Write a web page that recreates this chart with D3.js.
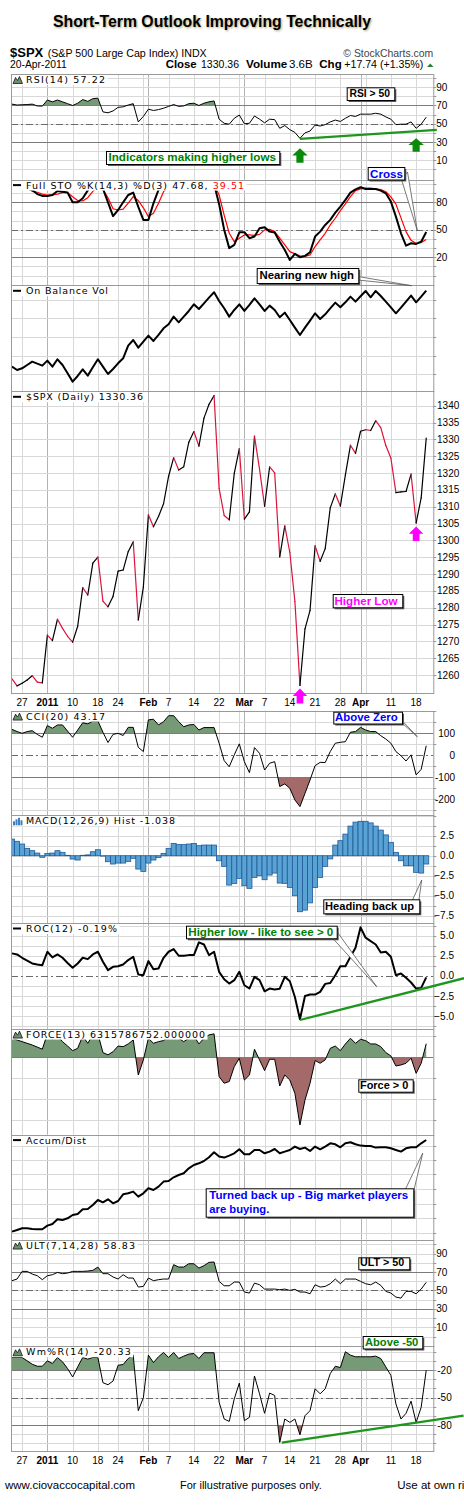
<!DOCTYPE html>
<html><head><meta charset="utf-8">
<script src="https://cdn.jsdelivr.net/npm/d3@7/dist/d3.min.js"></script>
<style>html,body{margin:0;padding:0;background:#fff}svg{display:block}text{font-family:"Liberation Sans",Arial,sans-serif}</style>
</head><body>
<svg id="chart" width="464" height="1507"></svg>
<script>
// ================= DATA =================
const dates = ["2010-12-22","2010-12-23","2010-12-27","2010-12-28","2010-12-29","2010-12-30","2010-12-31",
"2011-01-03","2011-01-04","2011-01-05","2011-01-06","2011-01-07","2011-01-10","2011-01-11","2011-01-12","2011-01-13","2011-01-14",
"2011-01-18","2011-01-19","2011-01-20","2011-01-21","2011-01-24","2011-01-25","2011-01-26","2011-01-27","2011-01-28","2011-01-31",
"2011-02-01","2011-02-02","2011-02-03","2011-02-04","2011-02-07","2011-02-08","2011-02-09","2011-02-10","2011-02-11",
"2011-02-14","2011-02-15","2011-02-16","2011-02-17","2011-02-18","2011-02-22","2011-02-23","2011-02-24","2011-02-25","2011-02-28",
"2011-03-01","2011-03-02","2011-03-03","2011-03-04","2011-03-07","2011-03-08","2011-03-09","2011-03-10","2011-03-11",
"2011-03-14","2011-03-15","2011-03-16","2011-03-17","2011-03-18","2011-03-21","2011-03-22","2011-03-23","2011-03-24","2011-03-25",
"2011-03-28","2011-03-29","2011-03-30","2011-03-31","2011-04-01","2011-04-04","2011-04-05","2011-04-06","2011-04-07","2011-04-08",
"2011-04-11","2011-04-12","2011-04-13","2011-04-14","2011-04-15","2011-04-18","2011-04-19","2011-04-20"];

const spx = [1258.84,1256.77,1257.54,1258.51,1259.78,1257.88,1257.64,1271.87,1270.20,1276.56,1273.85,1271.50,1269.75,1274.48,1285.96,1283.76,1293.24,1295.02,1281.92,1280.26,1283.35,1290.84,1291.18,1296.63,1299.54,1276.34,1286.12,1307.59,1304.03,1307.10,1310.87,1319.05,1324.57,1320.88,1321.87,1329.15,1332.32,1328.01,1336.32,1340.43,1343.01,1315.44,1307.40,1306.10,1319.88,1327.22,1306.33,1308.44,1330.97,1321.15,1310.13,1321.82,1320.02,1295.11,1304.28,1296.39,1281.87,1256.88,1273.72,1279.21,1298.38,1293.77,1297.54,1309.66,1313.80,1310.19,1319.44,1328.26,1325.83,1332.41,1332.87,1332.63,1335.54,1333.51,1328.17,1324.46,1314.16,1314.41,1314.52,1319.68,1305.14,1312.62,1330.36];

const rsi = [71.5,70.5,70.8,71,71.5,69.5,69.3,76,74,76,74,72,70,72.5,76.5,74.5,77.5,78,63,62,64,68,68.5,70.5,72,52,58,66,64.5,65.5,67,69,71,69,69.5,72,72.5,70,72.5,74,75,55,50.5,49.5,56,59.5,50,50.5,58.5,55,51,55,54.5,45,48,43.5,40.5,34,40,42,48.5,47.5,49,52,54,52.5,56,59,58,60.5,60.5,60.5,61.5,60.5,57.5,55,49,49.5,49.5,52,45,49.5,57.22];

const stoK = [97,97,96,95,93.5,89,87,87,88,92.4,91.5,90.6,80,80,84.4,93,99,100,95,80,65,71.6,80,88,90.6,75,60.8,60.8,78.9,93.5,98,99,100,97,98,99,100,97,99,100,100,78,50,30,33.5,47.3,47.3,40.8,42.6,51.7,52.8,48,47,37,28,17.1,23.7,20,21.5,25.5,42.6,48,55.3,60.8,68.8,75.3,82.6,90.6,94.2,96.4,94.6,94.6,94.6,92.8,89.8,80.8,64.4,46.2,32.7,35.3,34.6,37,47.68];
const stoD = [97,97,96,95,92,91,89,88,88,89,90.5,90.5,86,82,81.5,85,92,97,93.5,85,73,71.6,72.5,79,86.2,82,74,64.4,68,78.9,91.6,97,99,99,98,98,99,99,98.5,99,100,88,66,46.2,37.1,40.8,44.4,44.4,44,45,49.9,50.5,48,41,33.5,26.2,23.7,21.5,21,22.6,31.7,39,46.2,55.3,62.6,71,78.2,86.2,92.7,94.6,95.5,95.5,94.6,94,91.5,86,78,63,48,38.5,35,36,39.51];

const obv = [55,45,50,60,70,64,58,73,55,77,60,35,10,27,47,28,53,77,55,33,48,65,80,118,135,112,130,148,132,150,170,182,205,188,205,222,242,228,245,262,278,252,230,205,225,242,222,240,260,242,222,238,225,203,217,195,172,150,172,193,215,198,212,230,247,233,248,265,250,266,282,263,282,267,250,233,215,232,250,268,248,265,283];

const cci = [118,108,100,108,112,95,82,135,123,138,138,110,82,115,148,143,156,156,105,58,95,100,90,127,127,36,17,161,164,138,153,180,180,153,130,138,140,115,126,126,126,55,-24,-52,2,52,-29,-79,35,9,-67,-36,-29,-142,-130,-150,-203,-233,-173,-112,-47,-32,-33,17,55,59,62,105,108,127,115,108,108,89,74,55,17,-2,-26,2,-89,-64,43.17];

const macdHist = [2.08,1.8,1.46,0.92,0.63,0.33,-0.2,0.29,0.33,0.63,0.42,0.05,-0.42,-0.54,0.05,0.1,0.5,0.75,-0.05,-0.75,-1.04,-0.92,-0.92,-0.71,-0.33,-1.67,-1.96,-0.92,-0.54,-0.21,0.29,0.92,1.54,1.38,1.38,1.46,1.54,1.25,1.33,1.33,1.33,-0.63,-1.33,-3.67,-3.46,-2.83,-3.75,-4.08,-2.71,-2.5,-3.0,-2.42,-2.17,-3.42,-3.46,-3.96,-5.0,-7.0,-6.8,-5.9,-3.96,-2.71,-1.33,-0.4,1.33,1.88,2.7,3.7,4.2,4.3,4.3,4.1,3.7,3.2,2.6,1.67,0.42,-0.63,-1.25,-1.25,-2.08,-2.17,-1.04];

const roc = [2.8,2.67,2.25,1.9,1.54,1.4,1.33,3.0,2.3,2.67,2.25,1.6,1.0,1.54,2.25,2.08,2.67,3.0,1.75,0.71,1.12,1.2,1.42,1.96,2.38,0.17,0.08,1.83,0.83,0.92,2.25,3.0,3.33,2.5,2.5,2.58,2.58,4.17,3.9,2.58,3.0,0.5,-0.42,-0.96,-0.54,0.5,-1.17,-1.58,-0.12,-0.54,-1.92,-1.58,-1.7,-1.6,-0.12,-0.67,-2.63,-5.4,-2.5,-2.33,-2.33,-2.0,-1.0,-0.9,0.08,1.2,1.2,2.38,3.5,6.04,4.75,4.33,3.9,2.9,3.0,2.38,0.08,0.29,-0.25,-0.83,-1.58,-1.5,-0.19];

// Force index, billions
const force = [8.9,8.1,7.3,6.5,5.7,4.7,3.7,11,8.5,10,7.3,5.2,3.0,4.1,10,6.5,10.5,11,2.1,1.0,2.5,5.2,4.9,6.2,8.1,-8.6,-1.4,8.9,6.5,7.3,7.8,10,10.5,8.9,7.3,8.9,10,6.2,8.9,10.5,11,-9.4,-12.5,-11.7,-4.6,-0.6,-11,-8.6,3.7,-1.4,-6.5,-1.1,-1.1,-13.8,-8.6,-11,-17.3,-32.4,-20.5,-12.5,-1.7,-3.0,-1.4,4.1,5.2,3.0,6.2,8.9,6.5,8.4,7.8,6.2,6.2,4.9,2.1,0.5,-4.3,-3.8,-3.0,-0.6,-7.8,-3.0,6.3];

const accDist = [6.7,8.3,10,10,9.3,9,9,12.7,14.3,19,18.3,20,23.3,24.3,29,29.3,33.3,38.3,36,39,35,37.3,44,45,46.7,41.7,45,50,48.3,51.7,56.7,57.3,61,63.3,65,70,73.3,75,77.3,81,86,81.7,80.7,82.7,85,89,84,84,88.3,88.3,85,86.7,89.3,85,86.7,88.3,91.7,89.3,90.7,87.3,91.7,89,91.7,95,94,91,95,96,94,92.7,92.3,92.3,90.7,91,91,90,88.3,86.7,90,91,91,95,98.3];

const ult = [60.6,62.4,70.7,70.7,67.8,66,61.7,66,67.1,69.6,68.2,68.9,70.7,70.7,70.7,71.1,71.8,75.4,68.2,68.2,64.6,62.4,67.1,63.5,63.5,53.7,54.4,63.5,60.6,61.7,62.4,62.4,78,75.4,75.4,79,79,74.3,76.9,80.5,80.9,59.9,55.1,55.1,59.1,59.1,48.3,47.2,58,56.2,51.5,51.5,51.5,50.8,51.5,50.1,51.2,48.3,48.3,46.4,56.2,53.7,54.4,57.3,62.4,57.3,62.4,62.4,62.4,59.9,57.3,56.2,59.1,55.5,49,47.2,42.8,41.7,49,49,46.4,51.5,58.83];

const willR = [-6.5,-6.5,-6.5,-10.1,-13.8,-16,-16,-10.1,-13,-6.5,-11.2,-18.5,-27.7,-16.7,-6.5,-8.3,-6.5,-6.5,-33.9,-36.1,-32.1,-14.9,-14.1,-7.6,-3.9,-64.3,-50.4,-3.9,-12,-5.7,-1,-6.5,-1,-7.6,-5,-2.8,-2.1,-7.6,-1.3,-1.3,-1.3,-55.1,-73.4,-76,-51.5,-34.3,-75.2,-71.6,-26.6,-46,-67.2,-45.2,-47.8,-99,-73.4,-77.1,-73.4,-90.6,-69.8,-64.3,-40.5,-46,-40.5,-24,-16,-17.4,-0.2,-3.9,-5.7,-5.7,-5.7,-5.7,-5,-7.6,-16.7,-25.9,-57,-73.4,-67.2,-54,-77.1,-60.6,-20.33];

const xTickDates  = ["2010-12-27","2011-01-03","2011-01-10","2011-01-18","2011-01-24","2011-02-01","2011-02-07","2011-02-14","2011-02-22","2011-03-01","2011-03-07","2011-03-14","2011-03-21","2011-03-28","2011-04-01","2011-04-11","2011-04-18"];
const xTickLabels = ["27","2011","10","18","24","Feb","7","14","22","Mar","7","14","21","28","Apr","11","18"];
const extraGridDates = ["2011-01-31","2011-02-28","2011-04-04"];
const monthStarts = ["2011-01-03","2011-02-01","2011-03-01","2011-04-01"];

// trend lines [index, value] pairs (index may extend past last bar)
const rsiTrend = [[57,33.5],[84.1,43.2]];
const rocTrend = [[57,-5.5],[89.5,-0.29]];
const wrTrend  = [[53.4,-99],[89.4,-69.6]];

// ================= CHART =================
const svg = d3.select('#chart');
const defs = svg.append('defs');
const X0 = 11, X1 = 433.3;
const x = d3.scaleLinear().domain([-0.2, 83.4]).range([X0, X1]);
const idx = d => dates.indexOf(d);
const GREEN_FILL = '#769a76', RED_FILL = '#a46a6a';
let uid = 0;
function clip(x0, y0, w, h) {
  const id = 'cp' + (uid++);
  defs.append('clipPath').attr('id', id).append('rect').attr('x', x0).attr('y', y0).attr('width', w).attr('height', h);
  return `url(#${id})`;
}
const gridDates = xTickDates.concat(extraGridDates);

function panel(cfg) {
  const y = d3.scaleLinear().domain(cfg.domain).range([cfg.bottom, cfg.top]);
  const g = svg.append('g');
  gridDates.forEach(d => {
    const xx = Math.round(x(idx(d))) + 0.5;
    g.append('line').attr('x1', xx).attr('x2', xx).attr('y1', cfg.top).attr('y2', cfg.bottom)
      .attr('stroke', monthStarts.includes(d) ? '#b2b2b2' : '#d8d8d8').attr('stroke-width', 1);
  });
  (cfg.grid || []).forEach(v => {
    const yy = Math.round(y(v)) + 0.5;
    g.append('line').attr('x1', X0).attr('x2', X1).attr('y1', yy).attr('y2', yy).attr('stroke', '#d8d8d8');
    g.append('line').attr('x1', X1).attr('x2', X1 + 3).attr('y1', yy).attr('y2', yy).attr('stroke', '#999');
  });
  (cfg.solid || []).forEach(v => {
    const yy = Math.round(y(v)) + 0.5;
    g.append('line').attr('x1', X0).attr('x2', X1).attr('y1', yy).attr('y2', yy).attr('stroke', '#7a7a7a');
  });
  (cfg.dash || []).forEach(v => {
    const yy = Math.round(y(v)) + 0.5;
    g.append('line').attr('x1', X0).attr('x2', X1).attr('y1', yy).attr('y2', yy).attr('stroke', '#6a6a6a').attr('stroke-dasharray', '7,3,2,3');
  });
  const fmt = cfg.fmt ? d3.format(cfg.fmt) : (v => String(v));
  (cfg.ticks || []).forEach(v => {
    svg.append('text').attr('x', cfg.xEnd).attr('y', y(v) + 3.6).attr('text-anchor', 'end')
      .attr('font-size', 10).attr('fill', '#000').text(fmt(v));
  });
  const plot = svg.append('g').attr('clip-path', clip(X0, cfg.top, X1 - X0, cfg.bottom - cfg.top));
  return { y, g, plot, cfg };
}

function lineSeries(P, data, color, w) {
  P.plot.append('path').datum(data)
    .attr('d', d3.line().x((d, i) => x(i)).y(d => P.y(d)))
    .attr('fill', 'none').attr('stroke', color).attr('stroke-width', w).attr('stroke-linejoin', 'round');
}
function thresholdFill(P, data, T, above, color) {
  const yT = P.y(T);
  const r = above ? [P.cfg.top, yT] : [yT, P.cfg.bottom];
  P.plot.append('g').attr('clip-path', clip(X0, r[0], X1 - X0, r[1] - r[0]))
    .append('path').datum(data)
    .attr('d', d3.area().x((d, i) => x(i)).y0(yT).y1(d => P.y(d)))
    .attr('fill', color);
}
function trend(P, pts) {
  svg.append('line').attr('x1', x(pts[0][0])).attr('y1', P.y(pts[0][1]))
    .attr('x2', x(pts[1][0])).attr('y2', P.y(pts[1][1]))
    .attr('stroke', '#1e961e').attr('stroke-width', 2.3);
}

const hundred = d3.range(0, 101, 10);
const P = {};
P.rsi = panel({ top: 74, bottom: 179.6, domain: [-11.2, 104.5], grid: hundred, ticks: [10, 30, 50, 70, 90], solid: [30, 70], dash: [50], xEnd: 447.3 });
P.sto = panel({ top: 179.6, bottom: 285.3, domain: [-10.6, 104.8], grid: hundred, ticks: [20, 50, 80], solid: [20, 80], dash: [50], xEnd: 447.3 });
P.obv = panel({ top: 285.3, bottom: 391.3, domain: [-19, 299], grid: [32, 87, 143, 200, 255] });
P.spx = panel({ top: 391.3, bottom: 693, domain: [1254.65, 1344.28], grid: d3.range(1260, 1341, 5), ticks: d3.range(1260, 1341, 5), xEnd: 459.3 });
P.cci = panel({ top: 710.6, bottom: 815.3, domain: [-272.7, 203.2], grid: [-250, -200, -150, -50, 50, 150, 200], ticks: [-200, -100, 0, 100], solid: [-100, 100], dash: [0], xEnd: 455 });
P.macd = panel({ top: 815.3, bottom: 923, domain: [-8.41, 5.05], grid: [-7.5, -6.25, -5, -3.75, -2.5, -1.25, 0, 1.25, 2.5, 3.75, 5], ticks: [-7.5, -5, -2.5, 0, 2.5], fmt: '.1f', xEnd: 454 });
P.roc = panel({ top: 923, bottom: 1028.6, domain: [-6.57, 6.58], grid: [-6.25, -5, -3.75, -2.5, -1.25, 1.25, 2.5, 3.75, 5, 6.25], ticks: [-5, -2.5, 0, 2.5, 5], dash: [0], fmt: '.1f', xEnd: 454 });
P.force = panel({ top: 1028.6, bottom: 1134.6, domain: [-36.95, 13.5], grid: [-30, -20, -10, 10], solid: [0] });
P.ad = panel({ top: 1134.6, bottom: 1239.6, domain: [-1.3, 103.7], grid: [5.6, 20, 34.3, 49.3, 64, 78.3, 92.6] });
P.ult = panel({ top: 1239.6, bottom: 1346.3, domain: [-10.6, 105.2], grid: hundred, ticks: [10, 30, 50, 70, 90], solid: [30, 70], dash: [50], xEnd: 447.3 });
P.wr = panel({ top: 1346.3, bottom: 1451, domain: [-108.2, 5.7], grid: d3.range(-100, 1, 10), ticks: [-80, -50, -20], solid: [-80, -20], dash: [-50], xEnd: 451.7 });

// RSI
thresholdFill(P.rsi, rsi, 70, true, GREEN_FILL);
thresholdFill(P.rsi, rsi, 30, false, RED_FILL);
lineSeries(P.rsi, rsi, '#000', 1);
// STO
lineSeries(P.sto, stoD, '#ff0000', 1.2);
lineSeries(P.sto, stoK, '#000', 2);
// OBV
lineSeries(P.obv, obv, '#000', 2);
// SPX colored segments
P.spx.plot.selectAll(null).data(spx.slice(1)).join('line')
  .attr('x1', (d, i) => x(i)).attr('y1', (d, i) => P.spx.y(spx[i]))
  .attr('x2', (d, i) => x(i + 1)).attr('y2', d => P.spx.y(d))
  .attr('stroke', (d, i) => d < spx[i] ? '#dc143c' : '#000').attr('stroke-width', 1.2).attr('stroke-linecap', 'round');
// CCI
thresholdFill(P.cci, cci, 100, true, GREEN_FILL);
thresholdFill(P.cci, cci, -100, false, RED_FILL);
lineSeries(P.cci, cci, '#000', 1);
// MACD histogram
const bw = x(1) - x(0);
P.macd.plot.selectAll(null).data(macdHist).join('rect')
  .attr('x', (d, i) => x(i) - bw / 2).attr('width', bw)
  .attr('y', d => Math.min(P.macd.y(d), P.macd.y(0)))
  .attr('height', d => Math.abs(P.macd.y(d) - P.macd.y(0)))
  .attr('fill', '#58a3d3').attr('stroke', '#22589a').attr('stroke-width', 0.8);
// ROC
lineSeries(P.roc, roc, '#000', 2);
// FORCE
thresholdFill(P.force, force, 0, true, GREEN_FILL);
thresholdFill(P.force, force, 0, false, RED_FILL);
lineSeries(P.force, force, '#000', 1);
// A/D
lineSeries(P.ad, accDist, '#000', 2);
// ULT
thresholdFill(P.ult, ult, 70, true, GREEN_FILL);
thresholdFill(P.ult, ult, 30, false, RED_FILL);
lineSeries(P.ult, ult, '#000', 1);
// Wm%R
thresholdFill(P.wr, willR, -20, true, GREEN_FILL);
thresholdFill(P.wr, willR, -80, false, RED_FILL);
lineSeries(P.wr, willR, '#000', 1);

// ---- legends ----
function legend(Pn, icon, len, build) {
  const top = Pn.cfg.top;
  svg.append('rect').attr('x', X0 + 0.5).attr('y', top + 0.5).attr('width', 26 + len + 2 - X0).attr('height', 10.5).attr('fill', '#fff');
  if (icon === 'dash') {
    svg.append('line').attr('x1', 13).attr('x2', 21).attr('y1', top + 5.5).attr('y2', top + 5.5).attr('stroke', '#000').attr('stroke-width', 2);
  } else if (icon === 'mtn') {
    svg.append('polygon').attr('points', [[13, top + 9.5], [15.5, top + 3.5], [17.5, top + 6.5], [19.5, top + 2.5], [22.5, top + 9.5]].join(' '))
      .attr('fill', '#6a8f6a').attr('stroke', '#000').attr('stroke-width', 0.7);
  } else if (icon === 'bars') {
    [[13, 5], [15.5, 3], [18, 1.5], [20.5, 4]].forEach(b => svg.append('rect').attr('x', b[0]).attr('y', top + 1 + b[1]).attr('width', 2).attr('height', 9 - b[1]).attr('fill', '#3a7fc0'));
  }
  const t = svg.append('text').attr('x', 26).attr('y', top + 8.9).attr('font-size', 9.5)
    .style('font-family', '"DejaVu Sans",Verdana,sans-serif').attr('textLength', len).attr('lengthAdjust', 'spacing');
  build(t);
}
legend(P.rsi, 'mtn', 79, t => t.text('RSI(14) 57.22'));
legend(P.sto, 'dash', 218, t => { t.append('tspan').text('Full STO %K(14,3) %D(3) 47.68, '); t.append('tspan').attr('fill', '#ff0000').text('39.51'); });
legend(P.obv, 'dash', 82, t => t.text('On Balance Vol'));
legend(P.spx, 'dash', 117, t => t.text('$SPX (Daily) 1330.36'));
legend(P.cci, 'mtn', 79, t => t.text('CCI(20) 43.17'));
legend(P.macd, 'bars', 149, t => t.text('MACD(12,26,9) Hist -1.038'));
legend(P.roc, 'dash', 91, t => t.text('ROC(12) -0.19%'));
legend(P.force, 'mtn', 179, t => t.text('FORCE(13) 6315786752.000000'));
legend(P.ad, 'dash', 60, t => t.text('Accum/Dist'));
legend(P.ult, 'mtn', 109, t => t.text('ULT(7,14,28) 58.83'));
legend(P.wr, 'mtn', 104.7, t => t.text('Wm%R(14) -20.33'));

// borders
Object.values(P).forEach(Pn => {
  svg.append('rect').attr('x', X0 + 0.5).attr('y', Math.round(Pn.cfg.top) + 0.5).attr('width', X1 - X0)
    .attr('height', Math.round(Pn.cfg.bottom) - Math.round(Pn.cfg.top)).attr('fill', 'none').attr('stroke', '#9a9a9a');
});

// x axis labels
function xLabels(base) {
  svg.selectAll(null).data(xTickDates).join('text')
    .attr('x', d => x(idx(d))).attr('y', base).attr('text-anchor', 'middle').attr('font-size', 10)
    .attr('font-weight', d => monthStarts.includes(d) ? 'bold' : 'normal')
    .text((d, i) => xTickLabels[i]);
}
xLabels(705.5);
xLabels(1463.5);

// trend lines
trend(P.rsi, rsiTrend);
trend(P.roc, rocTrend);
trend(P.wr, wrTrend);

// arrows
function upArrow(cx, tip, w, h, color) {
  const hh = h * 0.5, sw = w * 0.46;
  svg.append('polygon').attr('points', [[cx, tip], [cx + w / 2, tip + hh], [cx + sw / 2, tip + hh], [cx + sw / 2, tip + h], [cx - sw / 2, tip + h], [cx - sw / 2, tip + hh], [cx - w / 2, tip + hh]].join(' '))
    .attr('fill', color);
}
upArrow(x(57), P.rsi.y(rsi[57]) + 10, 15.5, 14.4, '#0a8a0a');
upArrow(x(80), P.rsi.y(rsi[80]) + 10, 15.5, 13.4, '#0a8a0a');
upArrow(x(57), P.spx.y(spx[57]) + 3, 14.5, 15, '#ff00ff');
upArrow(x(80), P.spx.y(spx[80]) + 3.5, 14.5, 14.5, '#ff00ff');

// callouts
function callout(o) {
  if (o.ptr) {
    svg.append('polygon').attr('points', o.ptr.map(p => p.join(',')).join(' '))
      .attr('fill', '#fff').attr('stroke', '#555').attr('stroke-width', 0.8);
  }
  svg.append('rect').attr('x', o.x + 2).attr('y', o.y + 2).attr('width', o.w).attr('height', o.h).attr('fill', '#5a5a5a');
  svg.append('rect').attr('x', o.x + 0.5).attr('y', o.y + 0.5).attr('width', o.w).attr('height', o.h).attr('fill', '#fff').attr('stroke', '#000');
  o.lines.forEach(l => {
    svg.append('text').attr('x', l[1]).attr('y', l[2]).attr('font-size', o.size || 11.5).attr('font-weight', 'bold')
      .attr('fill', o.color).attr('textLength', l[3]).attr('lengthAdjust', 'spacingAndGlyphs').text(l[0]);
  });
}
callout({ x: 346.7, y: 87.3, w: 47.6, h: 12.7, color: '#000', size: 10.5, lines: [['RSI > 50', 349.5, 97, 40.5]] });
callout({ x: 106, y: 151, w: 173.3, h: 13, color: '#008000', lines: [['Indicators making higher lows', 108.5, 161.3, 167.5]] });
callout({ x: 367.7, y: 167, w: 36.6, h: 12.5, color: '#0000ff', ptr: [[401.5, 179.5], [407.5, 172], [417.3, 230.7]], lines: [['Cross', 370, 177.6, 33]] });
callout({ x: 256.7, y: 268, w: 101.6, h: 15, color: '#000', ptr: [[358, 276.5], [358, 280], [411.7, 285.7]], lines: [['Nearing new high', 259.5, 279, 94.5]] });
callout({ x: 332.7, y: 594, w: 69.6, h: 13.3, color: '#ff00ff', lines: [['Higher Low', 334.5, 604.5, 63]] });
callout({ x: 333.3, y: 711.7, w: 68.7, h: 11.8, color: '#0000ff', ptr: [[399.5, 718], [402, 723], [417.3, 736.7]], lines: [['Above Zero', 335, 721.3, 62.7]] });
callout({ x: 323.3, y: 899.3, w: 96, h: 14, color: '#000', ptr: [[412.5, 900], [418.5, 903], [421.7, 880]], lines: [['Heading back up', 325, 909.5, 89]] });
callout({ x: 186, y: 925.7, w: 150.7, h: 12.6, color: '#008000', ptr: [[332.5, 938], [336.5, 931], [376.7, 986.7]], lines: [['Higher low - like to see > 0', 188.3, 935.8, 145]] });
callout({ x: 358.3, y: 1079.3, w: 54.4, h: 12.4, color: '#000', lines: [['Force > 0', 360, 1089.2, 48.3]] });
callout({ x: 205.7, y: 1188.3, w: 207.6, h: 28.4, color: '#0000ff', ptr: [[405.5, 1189], [413, 1194], [422.7, 1153.3]], lines: [['Turned back up - Big market players', 209.3, 1199, 199], ['are buying.', 209.3, 1212.7, 60]] });
callout({ x: 358.3, y: 1257.3, w: 51, h: 12, color: '#000', size: 10.5, lines: [['ULT > 50', 360, 1266.3, 44.3]] });
callout({ x: 362.7, y: 1336, w: 59.6, h: 12.5, color: '#008000', lines: [['Above -50', 365, 1346.2, 53.3]] });

// ---- header ----
const tf = defs.append('filter').attr('id', 'tshadow').attr('x', '-5%').attr('y', '-30%').attr('width', '110%').attr('height', '160%');
tf.append('feGaussianBlur').attr('stdDeviation', 0.9);
svg.append('text').attr('x', 54).attr('y', 27.6).attr('font-size', 16.5).attr('font-weight', 'bold').attr('fill', '#8a7a3a').attr('opacity', 0.7)
  .attr('filter', 'url(#tshadow)').attr('textLength', 318).attr('lengthAdjust', 'spacingAndGlyphs').text('Short-Term Outlook Improving Technically');
svg.append('text').attr('x', 53).attr('y', 26.8).attr('font-size', 16.5).attr('font-weight', 'bold').attr('fill', '#000')
  .attr('textLength', 318).attr('lengthAdjust', 'spacingAndGlyphs').text('Short-Term Outlook Improving Technically');

function htext(str, xx, yy, size, weight, len, fill) {
  const t = svg.append('text').attr('x', xx).attr('y', yy).attr('font-size', size).attr('font-weight', weight || 'normal').attr('fill', fill || '#000').text(str);
  if (len) t.attr('textLength', len).attr('lengthAdjust', 'spacingAndGlyphs');
  return t;
}
htext('$SPX', 10, 57, 13.5, 'bold', 33.3);
htext('(S&P 500 Large Cap Index) INDX', 47.7, 56.5, 11, 'normal', 159);
htext('\u00A9 StockCharts.com', 343.3, 56.5, 11, 'normal', 90, '#444');
htext('20-Apr-2011', 10, 68.3, 10.5, 'normal', 56.7);
htext('Close', 165.7, 68.3, 11, 'bold', 31);
htext('1330.36', 201, 68.3, 10.5, 'normal', 38);
htext('Volume', 246, 68.3, 11, 'bold', 41.3);
htext('3.6B', 289, 68.3, 10.5, 'normal', 23.7);
htext('Chg', 319.3, 68.3, 11, 'bold', 22.4);
htext('+17.74 (+1.35%)', 344.3, 68.3, 10.5, 'normal', 79);
svg.append('polygon').attr('points', '427,67 430.3,63.5 433.6,67').attr('fill', '#2e7d32');

// ---- footer ----
htext('www.ciovaccocapital.com', 5, 1489, 11.5, 'normal', 130);
htext('For illustrative purposes only.', 180, 1489, 11.5, 'normal', 141.7);
htext('Use at own risk.', 397.3, 1489, 11.5, 'normal');
</script>
</body></html>
